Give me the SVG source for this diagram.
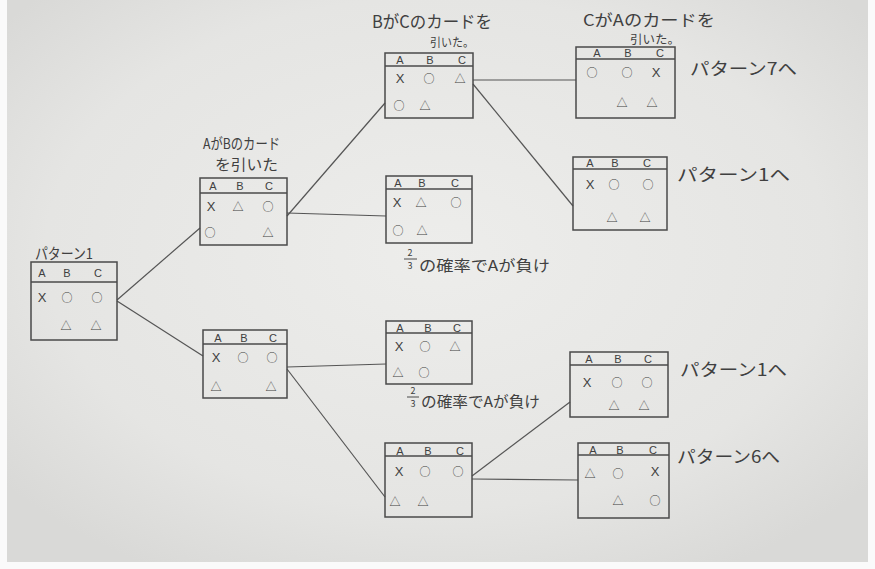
<svg xmlns="http://www.w3.org/2000/svg" width="875" height="569" viewBox="0 0 875 569">
<defs>
<radialGradient id="paper" cx="50%" cy="45%" r="65%">
<stop offset="0" stop-color="#ededeb"/>
<stop offset="0.7" stop-color="#e5e5e3"/>
<stop offset="1" stop-color="#d9d9d7"/>
</radialGradient>
<style>
.box{fill:none;stroke:#4a4a4a;stroke-width:1.5}
.hl{stroke:#4a4a4a;stroke-width:1.5}
.con line{stroke:#555555;stroke-width:1.2}
text{font-family:"Noto Sans CJK JP","Noto Sans",sans-serif;fill:#404040}
.h{font-size:11px;text-anchor:middle;dominant-baseline:central;font-family:"Liberation Sans",sans-serif}
.s{font-size:11px;text-anchor:middle;dominant-baseline:central}
.x{font-size:13px;text-anchor:middle;dominant-baseline:central;font-family:"Liberation Sans",sans-serif}
.l{font-size:15px;dominant-baseline:central}
.m{font-size:12px;dominant-baseline:central}
.b{font-size:17px;dominant-baseline:central}
</style>
</defs>
<rect width="875" height="569" fill="#fafafa"/>
<rect x="7" y="0" width="861" height="562" fill="url(#paper)"/>

<g class="con">
<line x1="117" y1="300" x2="200" y2="228"/>
<line x1="117" y1="301" x2="203" y2="356"/>
<line x1="287" y1="216" x2="385" y2="103"/>
<line x1="287" y1="213" x2="386" y2="216"/>
<line x1="473" y1="80" x2="576" y2="80"/>
<line x1="473" y1="84" x2="573" y2="206"/>
<line x1="287" y1="367" x2="386" y2="364"/>
<line x1="287" y1="369" x2="385" y2="497"/>
<line x1="472" y1="479" x2="578" y2="480"/>
<line x1="472" y1="476" x2="570" y2="402"/>
</g>

<g id="p1">
<text class="l" x="35" y="252" textLength="58" lengthAdjust="spacingAndGlyphs">パターン1</text>
<rect class="box" x="31" y="262" width="86" height="78"/>
<line class="hl" x1="31" y1="282" x2="117" y2="282"/>
<text class="h" x="42" y="273">A</text><text class="h" x="67" y="273">B</text><text class="h" x="98" y="273">C</text>
<text class="x" x="42" y="297">X</text><text class="s" x="67" y="297">○</text><text class="s" x="97" y="297">○</text>
<text class="s" x="66" y="325">△</text><text class="s" x="96" y="325">△</text>
</g>

<g id="nodeA">
<text class="l" x="203" y="142" textLength="77" lengthAdjust="spacingAndGlyphs">AがBのカード</text>
<text class="l" x="215" y="163" textLength="63" lengthAdjust="spacingAndGlyphs">を引いた</text>
<rect class="box" x="200" y="178" width="87" height="67"/>
<line class="hl" x1="200" y1="193" x2="287" y2="193"/>
<text class="h" x="213" y="186">A</text><text class="h" x="240" y="186">B</text><text class="h" x="269" y="186">C</text>
<text class="x" x="211" y="206">X</text><text class="s" x="238" y="206">△</text><text class="s" x="268" y="206">○</text>
<text class="s" x="210" y="232">○</text><text class="s" x="268" y="232">△</text>
</g>

<g id="nodeB">
<text class="b" x="372" y="20" textLength="120" lengthAdjust="spacingAndGlyphs">BがCのカードを</text>
<text class="m" x="430" y="41" textLength="44" lengthAdjust="spacingAndGlyphs">引いた。</text>
<rect class="box" x="385" y="53" width="88" height="65"/>
<line class="hl" x1="385" y1="66" x2="473" y2="66"/>
<text class="h" x="400" y="60">A</text><text class="h" x="430" y="60">B</text><text class="h" x="462" y="60">C</text>
<text class="x" x="400" y="78">X</text><text class="s" x="429" y="78">○</text><text class="s" x="460" y="78">△</text>
<text class="s" x="399" y="105">○</text><text class="s" x="425" y="105">△</text>
</g>

<g id="nodeC">
<text class="b" x="583" y="19" style="font-size:16px" textLength="132" lengthAdjust="spacingAndGlyphs">CがAのカードを</text>
<text class="m" x="630" y="38" textLength="50" lengthAdjust="spacingAndGlyphs">引いた。</text>
<rect class="box" x="576" y="47" width="99" height="71"/>
<line class="hl" x1="576" y1="59" x2="675" y2="59"/>
<text class="h" x="597" y="53">A</text><text class="h" x="628" y="53">B</text><text class="h" x="660" y="53">C</text>
<text class="s" x="592" y="72">○</text><text class="s" x="627" y="72">○</text><text class="x" x="656" y="72">X</text>
<text class="s" x="622" y="102">△</text><text class="s" x="652" y="102">△</text>
<text class="b" x="690" y="67" textLength="107" lengthAdjust="spacingAndGlyphs">パターン7へ</text>
</g>

<g id="nodeD">
<rect class="box" x="573" y="157" width="94" height="73"/>
<line class="hl" x1="573" y1="169" x2="667" y2="169"/>
<text class="h" x="590" y="163">A</text><text class="h" x="615" y="163">B</text><text class="h" x="647" y="163">C</text>
<text class="x" x="590" y="184">X</text><text class="s" x="614" y="184">○</text><text class="s" x="648" y="184">○</text>
<text class="s" x="612" y="217">△</text><text class="s" x="645" y="217">△</text>
<text class="b" x="677" y="173" textLength="113" lengthAdjust="spacingAndGlyphs">パターン1へ</text>
</g>

<g id="nodeE">
<rect class="box" x="386" y="176" width="86" height="67"/>
<line class="hl" x1="386" y1="189" x2="472" y2="189"/>
<text class="h" x="398" y="183">A</text><text class="h" x="422" y="183">B</text><text class="h" x="455" y="183">C</text>
<text class="x" x="397" y="202">X</text><text class="s" x="421" y="202">△</text><text class="s" x="456" y="202">○</text>
<text class="s" x="398" y="230">○</text><text class="s" x="422" y="230">△</text>
<text style="font-size:9px;text-anchor:middle" x="410" y="256">2</text>
<line class="hl" x1="404" y1="259" x2="417" y2="259" style="stroke-width:1"/>
<text style="font-size:9px;text-anchor:middle" x="410" y="269">3</text>
<text class="l" x="419" y="264" textLength="131" lengthAdjust="spacingAndGlyphs">の確率でAが負け</text>
</g>

<g id="nodeF">
<rect class="box" x="203" y="330" width="84" height="68"/>
<line class="hl" x1="203" y1="344" x2="287" y2="344"/>
<text class="h" x="218" y="338">A</text><text class="h" x="244" y="338">B</text><text class="h" x="273" y="338">C</text>
<text class="x" x="216" y="357">X</text><text class="s" x="243" y="357">○</text><text class="s" x="272" y="357">○</text>
<text class="s" x="216" y="386">△</text><text class="s" x="271" y="386">△</text>
</g>

<g id="nodeG">
<rect class="box" x="386" y="321" width="86" height="63"/>
<line class="hl" x1="386" y1="333" x2="472" y2="333"/>
<text class="h" x="400" y="328">A</text><text class="h" x="428" y="328">B</text><text class="h" x="457" y="328">C</text>
<text class="x" x="399" y="346">X</text><text class="s" x="425" y="346">○</text><text class="s" x="455" y="346">△</text>
<text class="s" x="398" y="372">△</text><text class="s" x="424" y="372">○</text>
<text style="font-size:9px;text-anchor:middle" x="413" y="394">2</text>
<line class="hl" x1="407" y1="397" x2="419" y2="397" style="stroke-width:1"/>
<text style="font-size:9px;text-anchor:middle" x="413" y="407">3</text>
<text class="l" x="421" y="400" textLength="119" lengthAdjust="spacingAndGlyphs">の確率でAが負け</text>
</g>

<g id="nodeH">
<rect class="box" x="570" y="352" width="98" height="65"/>
<line class="hl" x1="570" y1="365" x2="668" y2="365"/>
<text class="h" x="589" y="359">A</text><text class="h" x="618" y="359">B</text><text class="h" x="648" y="359">C</text>
<text class="x" x="587" y="382">X</text><text class="s" x="617" y="382">○</text><text class="s" x="647" y="382">○</text>
<text class="s" x="614" y="405">△</text><text class="s" x="644" y="405">△</text>
<text class="b" x="680" y="368" textLength="107" lengthAdjust="spacingAndGlyphs">パターン1へ</text>
</g>

<g id="nodeI">
<rect class="box" x="385" y="443" width="87" height="74"/>
<line class="hl" x1="385" y1="456" x2="472" y2="456"/>
<text class="h" x="400" y="451">A</text><text class="h" x="428" y="451">B</text><text class="h" x="460" y="451">C</text>
<text class="x" x="399" y="471">X</text><text class="s" x="425" y="471">○</text><text class="s" x="458" y="471">○</text>
<text class="s" x="395" y="501">△</text><text class="s" x="423" y="501">△</text>
</g>

<g id="nodeJ">
<rect class="box" x="578" y="443" width="91" height="75"/>
<line class="hl" x1="578" y1="455" x2="669" y2="455"/>
<text class="h" x="593" y="450">A</text><text class="h" x="620" y="450">B</text><text class="h" x="653" y="450">C</text>
<text class="s" x="590" y="473">△</text><text class="s" x="618" y="473">○</text><text class="x" x="655" y="471">X</text>
<text class="s" x="618" y="500">△</text><text class="s" x="655" y="500">○</text>
<text class="b" x="677" y="455" textLength="103" lengthAdjust="spacingAndGlyphs">パターン6へ</text>
</g>
</svg>
